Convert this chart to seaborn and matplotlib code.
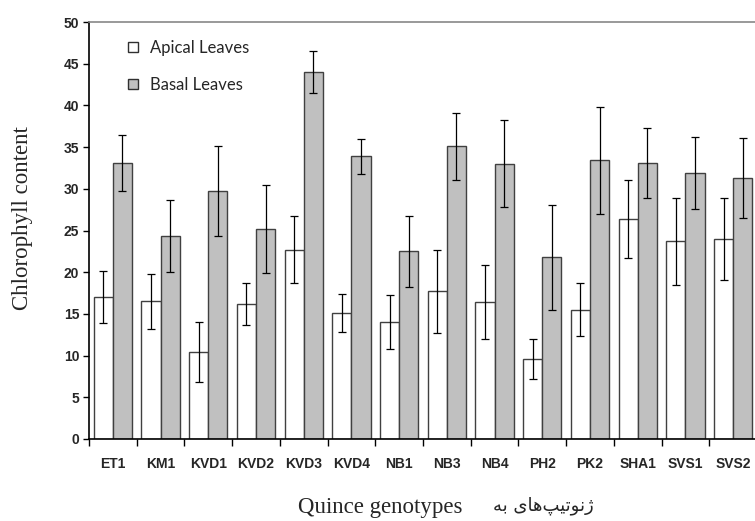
import pandas as pd
import matplotlib
matplotlib.use('Agg')
import matplotlib.pyplot as plt
import seaborn as sns
from matplotlib.patches import Patch

# data
genotypes = ['ET1', 'KM1', 'KVD1', 'KVD2', 'KVD3', 'KVD4', 'NB1',
             'NB3', 'NB4', 'PH2', 'PK2', 'SHA1', 'SVS1', 'SVS2']
apical = [17.0, 16.5, 10.4, 16.2, 22.7, 15.1, 14.0, 17.7, 16.4, 9.6, 15.5, 26.4, 23.7, 24.0]
apical_err = [3.1, 3.3, 3.6, 2.5, 4.0, 2.3, 3.25, 5.0, 4.45, 2.45, 3.2, 4.7, 5.2, 4.95]
basal = [33.1, 24.3, 29.7, 25.2, 44.0, 33.9, 22.5, 35.1, 33.0, 21.8, 33.4, 33.1, 31.9, 31.3]
basal_err = [3.4, 4.3, 5.4, 5.3, 2.5, 2.1, 4.25, 4.0, 5.2, 6.3, 6.4, 4.25, 4.35, 4.8]
leaf_types = ['Apical Leaves', 'Basal Leaves']
y_ticks = [0, 5, 10, 15, 20, 25, 30, 35, 40, 45, 50]

xlabel_en = 'Quince genotypes'
# Persian part in shaped (presentation) forms, visual order
xlabel_fa = '\uFEEA\uFE91 \uFBFC\uFE8E\uFEEB\uFB57\uFBFF\uFE97\uFEEE\uFEE7\uFB8A'

df = pd.DataFrame({
    'Genotype': genotypes * 2,
    'Chlorophyll': apical + basal,
    'Leaf': [leaf_types[0]] * len(genotypes) + [leaf_types[1]] * len(genotypes),
})
errs = {leaf_types[0]: apical_err, leaf_types[1]: basal_err}
colors = ['white', '#c0c0c0']

sns.set_style('ticks')

fig = plt.figure(figsize=(7.55, 5.21), dpi=100)
ax = fig.add_axes([89 / 755, 82 / 521, 668 / 755, 417 / 521])

sns.barplot(data=df, x='Genotype', y='Chlorophyll', hue='Leaf', order=genotypes,
            hue_order=leaf_types, palette=colors, saturation=1, errorbar=None,
            width=0.8, edgecolor='#404040', linewidth=1.0, legend=False, ax=ax)

# error bars on top of the bars
for cont, leaf in zip(ax.containers, leaf_types):
    xs = [b.get_x() + b.get_width() / 2 for b in cont]
    ys = [b.get_height() for b in cont]
    ax.errorbar(xs, ys, yerr=errs[leaf], fmt='none', ecolor='black',
                elinewidth=0.9, capsize=3, capthick=0.9, zorder=5)

ax.set_ylim(0, 50)
ax.set_xlim(-0.5, len(genotypes) - 0.5)
ax.set_yticks(y_ticks)
ax.set_yticklabels([str(t) for t in y_ticks], fontweight='bold', fontsize=10,
                   family='Liberation Sans')
ax.set_xticks(range(len(genotypes)))
ax.set_xticklabels(genotypes, fontweight='bold', fontsize=10, family='Liberation Sans')
ax.set_xticks([i - 0.5 for i in range(len(genotypes) + 1)], minor=True)
ax.tick_params(axis='x', which='major', length=0, pad=13)
ax.tick_params(axis='x', which='minor', length=5, width=1, direction='out', color='black')
ax.tick_params(axis='y', length=4, width=1, direction='out', color='black', pad=3)
ax.set_xlabel('')
ax.set_ylabel('')

for side in ['left', 'bottom']:
    ax.spines[side].set_color('black')
    ax.spines[side].set_linewidth(1.2)
for side in ['top', 'right']:
    ax.spines[side].set_visible(True)
    ax.spines[side].set_color('#888888')
    ax.spines[side].set_linewidth(1.2)

handles = [Patch(facecolor=c, edgecolor='#303030', linewidth=1.0) for c in colors]
fig.legend(handles, leaf_types, loc='upper left', bbox_to_anchor=(128 / 755, 1 - 40 / 521),
           frameon=False, borderpad=0, borderaxespad=0, handlelength=0.6, handleheight=0.6,
           handletextpad=0.75, labelspacing=1.25, prop={'family': 'Lato', 'size': 12})

fig.text(23 / 755, 1 - 218 / 521, 'Chlorophyll content', rotation=90, ha='center',
         va='center', family='Liberation Serif', fontsize=16.5)
fig.text(298 / 755, 1 - 507 / 521, xlabel_en, ha='left', va='center',
         family='Liberation Serif', fontsize=16.5)
fig.text(493 / 755, 1 - 506 / 521, xlabel_fa, ha='left', va='center',
         family='DejaVu Sans', fontsize=13)

fig.savefig('out.png', dpi=100)
